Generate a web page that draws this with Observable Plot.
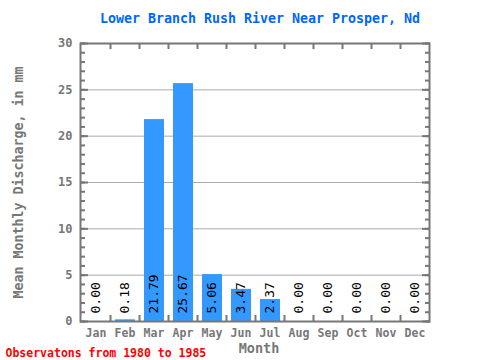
<!DOCTYPE html>
<html><head><meta charset="utf-8">
<script src="https://cdn.jsdelivr.net/npm/d3@7"></script>
<script src="https://cdn.jsdelivr.net/npm/@observablehq/plot@0.6"></script>
<style>body{margin:0;background:#fff}</style>
</head><body><div id="chart"></div>
<script>
const months = ["Jan","Feb","Mar","Apr","May","Jun","Jul","Aug","Sep","Oct","Nov","Dec"];
const values = [0.00,0.18,21.79,25.67,5.06,3.47,2.37,0.00,0.00,0.00,0.00,0.00];
const yTicks = [0,5,10,15,20,25,30];
const yMinor = d3.range(0,31,1);
const title = "Lower Branch Rush River Near Prosper, Nd";
const caption = "Observatons from 1980 to 1985";
const xLabel = "Month";
const yLabel = "Mean Monthly Discharge, in mm";

const data = months.map((m,i)=>({month:m, value:values[i]}));
const font = "DejaVu Sans Mono, monospace";
const gray = "#777";
const bw = 29;

const chart = Plot.plot({
  width: 480, height: 360,
  marginLeft: 80, marginRight: 51, marginTop: 43, marginBottom: 39,
  style: {fontFamily: font, background: "#fff"},
  x: {domain: months, padding: 0, axis: null},
  y: {domain: [0,30], axis: null},
  marks: [
    Plot.ruleY(yTicks.slice(1,-1), {stroke: "#aaa", strokeWidth: 1}),
    Plot.barY(data, {x: "month", y: "value", fill: "#3399ff", insetLeft: 5, insetRight: 4}),
    Plot.text(data, {x: "month", y: 0, text: d => d.value.toFixed(2), rotate: -90, textAnchor: "start", dy: -8, fontSize: 13, fill: "#000", fontFamily: font}),
    Plot.axisY({anchor: "left", ticks: yMinor, tickSize: -5, tickFormat: () => "", stroke: gray, strokeWidth: 2, label: null}),
    Plot.axisY({anchor: "right", ticks: yMinor, tickSize: -5, tickFormat: () => "", stroke: gray, strokeWidth: 2, label: null}),
    Plot.axisY({anchor: "left", ticks: yTicks, tickSize: -8, tickFormat: () => "", stroke: gray, strokeWidth: 2, label: null}),
    Plot.axisY({anchor: "right", ticks: yTicks, tickSize: -8, tickFormat: () => "", stroke: gray, strokeWidth: 2, label: null}),
    Plot.axisY({anchor: "left", ticks: yTicks, tickSize: 0, tickPadding: 8, fill: gray, fontSize: 12, fontWeight: "bold", label: null}),
    Plot.ruleX(months.slice(1), {x: d => d, dx: -bw/2, y1: 0, y2: 30*6/278, stroke: gray, strokeWidth: 2}),
    Plot.ruleX(months.slice(1), {x: d => d, dx: -bw/2, y1: 30, y2: 30 - 30*6/278, stroke: gray, strokeWidth: 2}),
    Plot.axisX({anchor: "bottom", tickSize: 0, tickPadding: 7, fill: gray, fontSize: 11.5, fontWeight: "bold", label: null}),
    Plot.frame({stroke: gray, strokeWidth: 2}),
    Plot.text([title], {frameAnchor: "top", lineAnchor: "middle", textAnchor: "middle", dx: 5, dy: -25, text: d => d, fill: "#0066ff", fontSize: 13.3, fontWeight: "bold", fontFamily: font}),
    Plot.text([xLabel], {frameAnchor: "bottom", lineAnchor: "middle", textAnchor: "middle", dx: 4, dy: 27, text: d => d, fill: gray, fontSize: 13.5, fontWeight: "bold", fontFamily: font}),
    Plot.text([yLabel], {frameAnchor: "left", lineAnchor: "middle", textAnchor: "middle", dx: -62, dy: 0, rotate: -90, text: d => d, fill: gray, fontSize: 13.3, fontWeight: "bold", fontFamily: font}),
    Plot.text([caption], {frameAnchor: "bottom-left", lineAnchor: "middle", textAnchor: "start", dx: -75, dy: 32, text: d => d, fill: "#ff0000", fontSize: 11.5, fontWeight: "bold", fontFamily: font})
  ]
});
document.getElementById("chart").appendChild(chart);
</script>
</body></html>
